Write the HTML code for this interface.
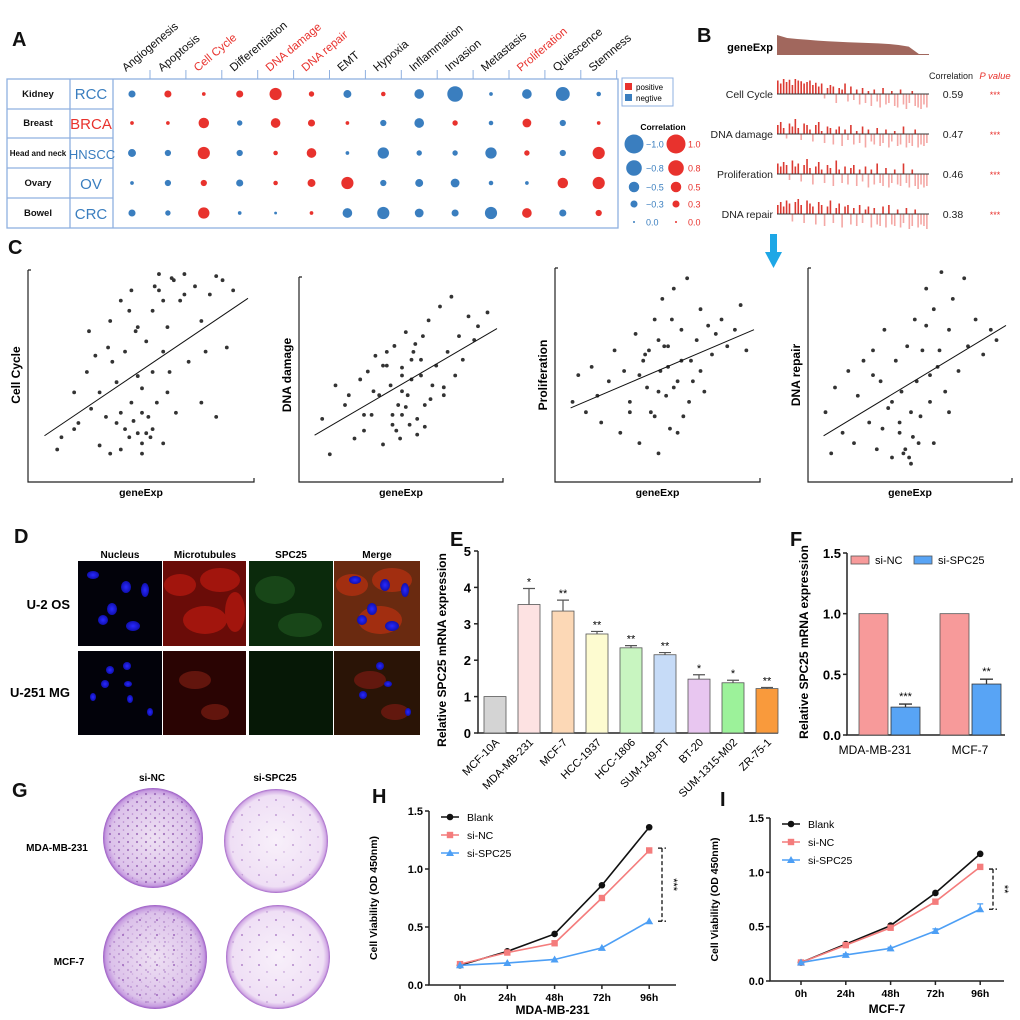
<!DOCTYPE html>
<html><head><meta charset="utf-8"><style>
html,body{margin:0;padding:0;background:#fff}
svg{display:block;font-family:"Liberation Sans",Arial,sans-serif}
</style></head><body>
<svg id="fig" width="1020" height="1020" viewBox="0 0 1020 1020" xmlns="http://www.w3.org/2000/svg">
<defs>
<radialGradient id="plateNC" cx="50%" cy="50%" r="50%"><stop offset="0" stop-color="#eee0f3"/><stop offset="0.85" stop-color="#dcc2ea"/><stop offset="0.95" stop-color="#c69be0"/><stop offset="1" stop-color="#9b5bc4"/></radialGradient>
<radialGradient id="plateSI" cx="50%" cy="50%" r="50%"><stop offset="0" stop-color="#f8f0fa"/><stop offset="0.88" stop-color="#efdff5"/><stop offset="0.96" stop-color="#d4aee6"/><stop offset="1" stop-color="#a466c8"/></radialGradient>
<pattern id="colDense" width="9" height="8" patternUnits="userSpaceOnUse"><circle cx="2" cy="2" r="1.1" fill="#7a3a9e"/><circle cx="6.5" cy="6" r="0.8" fill="#9a5ab8"/></pattern>
<pattern id="colSparse" width="17" height="15" patternUnits="userSpaceOnUse"><circle cx="4" cy="5" r="0.9" fill="#8a4aae"/><circle cx="12" cy="12" r="0.7" fill="#a06ac0"/></pattern>
<radialGradient id="nuc" cx="50%" cy="50%" r="50%"><stop offset="0" stop-color="#2a2aff"/><stop offset="1" stop-color="#1010b0"/></radialGradient>
</defs>

<g font-weight="bold" font-size="20" fill="#111">
<text x="12" y="46">A</text>
<text x="697" y="42">B</text>
<text x="8" y="254">C</text>
<text x="14" y="543">D</text>
<text x="450" y="546">E</text>
<text x="790" y="546">F</text>
<text x="12" y="797">G</text>
<text x="372" y="803">H</text>
<text x="720" y="806">I</text>
</g>

<g stroke="#8fb0e0" stroke-width="1.3" fill="none">
<rect x="7" y="79" width="611" height="149"/>
<line x1="70" y1="79" x2="70" y2="228"/><line x1="113" y1="79" x2="113" y2="228"/>
<line x1="7" y1="109" x2="113" y2="109"/><line x1="7" y1="138" x2="113" y2="138"/><line x1="7" y1="168" x2="113" y2="168"/><line x1="7" y1="198" x2="113" y2="198"/>
</g>
<g font-size="9.5" font-weight="bold" text-anchor="middle" fill="#111">
<text x="38" y="97">Kidney</text>
<text x="38" y="126">Breast</text>
<text x="38" y="156" font-size="8">Head and neck</text>
<text x="38" y="186">Ovary</text>
<text x="38" y="216">Bowel</text>
</g>
<g font-size="15" text-anchor="middle" fill="#3a7ebf">
<text x="91" y="99">RCC</text>
<text x="91" y="129" fill="#e8322d">BRCA</text>
<text x="92" y="159" font-size="13">HNSCC</text>
<text x="91" y="189">OV</text>
<text x="91" y="219">CRC</text>
</g>
<g id="aHeaders"></g>
<g id="aDots"></g>
<g>
<rect x="622" y="78" width="51" height="28" fill="#fff" stroke="#8fb0e0"/>
<rect x="625" y="83" width="7" height="7" fill="#e8322d"/><text x="636" y="90" font-size="8">positive</text>
<rect x="625" y="94" width="7" height="7" fill="#3a7ebf"/><text x="636" y="101" font-size="8">negtive</text>
</g>
<text x="663" y="130" font-size="8.5" font-weight="bold" text-anchor="middle">Correlation</text>
<g id="aLegend"></g>

<g id="bPanel"></g>
<text x="951" y="79" font-size="9" text-anchor="middle" fill="#222">Correlation</text>
<text x="995" y="79" font-size="9.5" font-style="italic" text-anchor="middle" fill="#e8322d">P value</text>
<path d="M770,234 h7 v18 h5 l-8.5,16 l-8.5,-16 h5 z" fill="#1ea7e6"/>

<g id="cPanel"></g>

<g>
<g font-size="10" font-weight="bold" text-anchor="middle">
<text x="120" y="558">Nucleus</text><text x="205" y="558">Microtubules</text><text x="291" y="558">SPC25</text><text x="377" y="558">Merge</text>
</g>
<text x="70" y="609" font-size="13" font-weight="bold" text-anchor="end">U-2 OS</text>
<text x="70" y="697" font-size="13" font-weight="bold" text-anchor="end">U-251 MG</text>
<rect x="78" y="561" width="84" height="85" fill="#02020a"/>
<rect x="163" y="561" width="83" height="85" fill="#6a0c08"/>
<rect x="249" y="561" width="84" height="85" fill="#0b2a0c"/>
<rect x="334" y="561" width="86" height="85" fill="#6a2a10"/>
<rect x="78" y="651" width="84" height="84" fill="#02020a"/>
<rect x="163" y="651" width="83" height="84" fill="#2a0403"/>
<rect x="249" y="651" width="84" height="84" fill="#061806"/>
<rect x="334" y="651" width="86" height="84" fill="#2a1406"/>
<g fill="#b0180f" opacity="0.8"><ellipse cx="180" cy="585" rx="16" ry="11"/><ellipse cx="220" cy="580" rx="20" ry="12"/><ellipse cx="205" cy="620" rx="22" ry="14"/><ellipse cx="235" cy="612" rx="10" ry="20"/></g>
<g fill="#b03010" opacity="0.8"><ellipse cx="352" cy="585" rx="16" ry="11"/><ellipse cx="392" cy="580" rx="20" ry="12"/><ellipse cx="380" cy="620" rx="22" ry="14"/></g>
<g fill="#1a4a1a" opacity="0.9"><ellipse cx="275" cy="590" rx="20" ry="14"/><ellipse cx="300" cy="625" rx="22" ry="12"/></g>
<g fill="#701a10" opacity="0.8"><ellipse cx="195" cy="680" rx="16" ry="9"/><ellipse cx="215" cy="712" rx="14" ry="8"/><ellipse cx="370" cy="680" rx="16" ry="9"/><ellipse cx="395" cy="712" rx="14" ry="8"/></g>
<g fill="url(#nuc)"><ellipse cx="93" cy="575" rx="6" ry="4"/><ellipse cx="126" cy="587" rx="5" ry="6"/><ellipse cx="145" cy="590" rx="4" ry="7"/><ellipse cx="112" cy="609" rx="5" ry="6"/><ellipse cx="103" cy="620" rx="5" ry="5"/><ellipse cx="133" cy="626" rx="7" ry="5"/><ellipse cx="110" cy="670" rx="4" ry="4"/><ellipse cx="127" cy="666" rx="4" ry="4"/><ellipse cx="105" cy="684" rx="4" ry="4"/><ellipse cx="128" cy="684" rx="4" ry="3"/><ellipse cx="93" cy="697" rx="3" ry="4"/><ellipse cx="130" cy="699" rx="3" ry="4"/><ellipse cx="150" cy="712" rx="3" ry="4"/>
<ellipse cx="355" cy="580" rx="6" ry="4"/><ellipse cx="385" cy="585" rx="5" ry="6"/><ellipse cx="405" cy="590" rx="4" ry="7"/><ellipse cx="372" cy="609" rx="5" ry="6"/><ellipse cx="362" cy="620" rx="5" ry="5"/><ellipse cx="392" cy="626" rx="7" ry="5"/><ellipse cx="380" cy="666" rx="4" ry="4"/><ellipse cx="363" cy="695" rx="4" ry="4"/><ellipse cx="388" cy="684" rx="4" ry="3"/><ellipse cx="408" cy="712" rx="3" ry="4"/></g>
</g>

<g id="ePanel"></g>
<g id="fPanel"></g>

<g>
<text x="152" y="781" font-size="10" font-weight="bold" text-anchor="middle">si-NC</text>
<text x="275" y="781" font-size="10" font-weight="bold" text-anchor="middle">si-SPC25</text>
<text x="57" y="851" font-size="10" font-weight="bold" text-anchor="middle">MDA-MB-231</text>
<text x="69" y="965" font-size="10" font-weight="bold" text-anchor="middle">MCF-7</text>
<circle cx="153" cy="838" r="50" fill="url(#plateNC)"/><circle cx="153" cy="838" r="47" fill="url(#colDense)" opacity="0.6"/>
<circle cx="276" cy="841" r="52" fill="url(#plateSI)"/><circle cx="276" cy="841" r="48" fill="url(#colSparse)" opacity="0.6"/>
<circle cx="155" cy="957" r="52" fill="url(#plateNC)"/><circle cx="155" cy="957" r="48" fill="url(#colSparse)"/><circle cx="155" cy="957" r="48" fill="url(#colDense)" opacity="0.3"/>
<circle cx="278" cy="957" r="52" fill="url(#plateSI)"/><circle cx="278" cy="957" r="48" fill="url(#colSparse)" opacity="0.8"/>
</g>

<g id="hPanel"></g>
<g id="iPanel"></g>
</svg>

<script>
const aCategories = ["Angiogenesis","Apoptosis","Cell Cycle","Differentiation","DNA damage","DNA repair","EMT","Hypoxia","Inflammation","Invasion","Metastasis","Proliferation","Quiescence","Stemness"];
const aHighlighted = ["Cell Cycle","DNA damage","DNA repair","Proliferation"];
const aCancers = ["RCC","BRCA","HNSCC","OV","CRC"];
const aRCC   = [-0.3, 0.3, 0.1, 0.3, 0.6, 0.2,-0.35, 0.15,-0.45,-0.8,-0.1,-0.45,-0.7,-0.15];
const aBRCA  = [ 0.1, 0.1, 0.5,-0.2, 0.45,0.3, 0.1,-0.25,-0.45, 0.2,-0.15, 0.4,-0.25, 0.1];
const aHNSCC = [-0.35,-0.25,0.6,-0.25,0.15,0.45,-0.1,-0.55,-0.2,-0.2,-0.55, 0.2,-0.25, 0.6];
const aOV    = [-0.1,-0.25,0.25,-0.3,0.15,0.35, 0.6,-0.25,-0.35,-0.4,-0.15,-0.1, 0.5, 0.6];
const aCRC   = [-0.3,-0.2, 0.55,-0.1,-0.05,0.1,-0.45,-0.6,-0.4,-0.3,-0.6, 0.45,-0.3, 0.25];
const aLegendValues = [1.0, 0.8, 0.5, 0.3, 0.0];

const bRows = ["Cell Cycle","DNA damage","Proliferation","DNA repair"];
const bCorr = ["0.59","0.47","0.46","0.38"];
const bPval = ["***","***","***","***"];
const bGeneExp = [1.0,0.85,0.8,0.76,0.72,0.69,0.66,0.64,0.62,0.6,0.58,0.55,0.5,0.42,0.05,0.05];
const bCellCycle = [0.9,0.7,1,0.8,0.95,0.6,1,0.9,0.85,0.7,0.8,0.9,0.6,0.75,0.5,0.7,-0.3,0.4,0.6,0.5,-0.6,0.4,0.3,0.7,-0.5,0.5,-0.4,0.3,-0.7,0.4,-0.6,0.2,-0.8,0.3,-0.5,-0.9,0.4,-0.7,-0.6,0.2,-0.8,-0.9,0.3,-0.7,-1,-0.6,0.2,-0.8,-0.9,-1,-0.7,-0.9];
const bDNAdamage = [0.6,0.8,0.4,-0.3,0.7,0.5,1,0.4,-0.4,0.7,0.6,0.3,-0.5,0.6,0.8,0.2,-0.6,0.5,0.4,-0.7,0.3,0.5,-0.8,0.3,-0.4,0.6,-0.7,0.2,-0.6,0.5,-0.9,0.3,-0.5,-0.7,0.4,-0.8,-0.6,0.3,-0.9,-0.5,0.2,-0.8,-0.7,0.5,-0.9,-0.6,-0.8,0.3,-0.9,-0.7,-0.8,-0.6];
const bProliferation = [0.7,0.5,0.8,0.6,-0.4,0.9,0.5,0.7,-0.5,0.6,1,0.4,-0.7,0.5,0.8,0.3,-0.6,0.6,0.4,-0.8,0.9,0.3,-0.6,0.5,-0.7,0.4,0.6,-0.8,0.3,-0.5,0.5,-0.9,0.3,-0.7,0.7,-0.6,-0.8,0.4,-0.9,-0.6,0.3,-0.7,-0.8,0.7,-0.6,-0.9,0.3,-0.8,-1,-0.7,-0.9,-0.8];
const bDNArepair = [0.6,0.8,0.5,0.9,0.7,-0.5,0.8,1,0.6,-0.6,0.9,0.7,0.5,-0.7,0.8,0.6,-0.8,0.5,0.9,-0.6,0.4,0.7,-0.9,0.5,0.6,-0.7,0.4,-0.8,0.6,-0.6,0.3,0.5,-0.9,0.4,-0.7,-0.8,0.5,-0.9,0.6,-0.7,-0.8,0.3,-0.9,-0.6,0.4,-1,-0.8,0.3,-0.9,-0.7,-0.8,-1];

const cTitles = ["Cell Cycle","DNA damage","Proliferation","DNA repair"];
const c1x = [0.1,0.12,0.18,0.18,0.2,0.24,0.26,0.28,0.3,0.3,0.33,0.35,0.36,0.38,0.4,0.4,0.42,0.44,0.45,0.47,0.48,0.5,0.5,0.52,0.53,0.55,0.55,0.57,0.58,0.6,0.6,0.62,0.63,0.65,0.66,0.68,0.7,0.72,0.75,0.78,0.8,0.82,0.85,0.88,0.9,0.93,0.25,0.35,0.45,0.5,0.55,0.6,0.4,0.48,0.52,0.58,0.62,0.7,0.78,0.85,0.42,0.46,0.5,0.54,0.38,0.44,0.56,0.64,0.34,0.48];
const c1y = [0.12,0.18,0.4,0.22,0.25,0.5,0.32,0.58,0.14,0.4,0.28,0.1,0.55,0.45,0.12,0.3,0.6,0.18,0.35,0.7,0.2,0.15,0.42,0.65,0.28,0.8,0.22,0.35,0.9,0.6,0.15,0.72,0.5,0.95,0.3,0.85,0.98,0.55,0.92,0.75,0.6,0.88,0.97,0.95,0.62,0.9,0.7,0.75,0.9,0.1,0.5,0.85,0.85,0.48,0.2,0.98,0.4,0.88,0.35,0.28,0.22,0.26,0.3,0.18,0.25,0.8,0.92,0.96,0.62,0.72];
const c2x = [0.08,0.12,0.15,0.2,0.22,0.25,0.28,0.3,0.32,0.34,0.36,0.38,0.4,0.42,0.44,0.45,0.46,0.48,0.49,0.5,0.5,0.52,0.53,0.54,0.55,0.56,0.58,0.6,0.61,0.62,0.64,0.66,0.68,0.7,0.72,0.74,0.76,0.78,0.8,0.82,0.85,0.88,0.9,0.95,0.3,0.4,0.5,0.6,0.45,0.55,0.65,0.35,0.47,0.57,0.52,0.42,0.62,0.72,0.5,0.58];
const c2y = [0.28,0.1,0.45,0.35,0.4,0.18,0.48,0.22,0.52,0.3,0.6,0.4,0.15,0.55,0.45,0.25,0.65,0.35,0.18,0.5,0.3,0.72,0.4,0.25,0.58,0.62,0.2,0.5,0.7,0.35,0.78,0.45,0.55,0.85,0.4,0.62,0.9,0.5,0.7,0.58,0.8,0.68,0.75,0.82,0.3,0.55,0.42,0.58,0.3,0.48,0.38,0.42,0.22,0.66,0.34,0.62,0.24,0.44,0.54,0.28];
const c3x = [0.05,0.08,0.12,0.15,0.18,0.2,0.24,0.27,0.3,0.32,0.35,0.38,0.4,0.42,0.44,0.46,0.48,0.5,0.51,0.52,0.54,0.55,0.56,0.58,0.6,0.62,0.63,0.65,0.67,0.7,0.72,0.74,0.76,0.78,0.8,0.83,0.86,0.9,0.93,0.96,0.45,0.5,0.55,0.48,0.53,0.58,0.4,0.62,0.68,0.35,0.43,0.57,0.66,0.72,0.5,0.6];
const c3y = [0.35,0.48,0.3,0.52,0.38,0.25,0.45,0.6,0.2,0.5,0.35,0.68,0.15,0.55,0.42,0.3,0.75,0.1,0.5,0.85,0.38,0.62,0.22,0.9,0.45,0.7,0.28,0.95,0.55,0.65,0.8,0.4,0.72,0.58,0.68,0.75,0.62,0.7,0.82,0.6,0.6,0.4,0.52,0.28,0.62,0.42,0.48,0.55,0.45,0.3,0.58,0.75,0.35,0.5,0.65,0.2];
const c4x = [0.05,0.08,0.1,0.14,0.17,0.2,0.22,0.25,0.28,0.3,0.32,0.34,0.36,0.38,0.4,0.42,0.44,0.45,0.46,0.48,0.5,0.5,0.52,0.53,0.54,0.56,0.58,0.6,0.62,0.64,0.66,0.68,0.7,0.72,0.75,0.78,0.8,0.84,0.88,0.92,0.95,0.4,0.44,0.47,0.49,0.51,0.55,0.6,0.65,0.7,0.35,0.3,0.58,0.62];
const c4y = [0.3,0.1,0.42,0.2,0.5,0.15,0.38,0.55,0.25,0.6,0.12,0.45,0.7,0.32,0.08,0.55,0.2,0.4,0.1,0.62,0.3,0.05,0.75,0.45,0.15,0.6,0.9,0.35,0.8,0.52,0.98,0.4,0.7,0.85,0.5,0.95,0.62,0.75,0.58,0.7,0.65,0.35,0.25,0.12,0.08,0.18,0.28,0.48,0.6,0.3,0.22,0.48,0.72,0.15];

const eCategories = ["MCF-10A","MDA-MB-231","MCF-7","HCC-1937","HCC-1806","SUM-149-PT","BT-20","SUM-1315-M02","ZR-75-1"];
const eValues = [1.0,3.53,3.35,2.72,2.34,2.15,1.48,1.38,1.22];
const eErrors = [0,0.44,0.3,0.07,0.06,0.06,0.12,0.07,0.03];
const eStars = ["","*","**","**","**","**","*","*","**"];
const eColors = ["#d4d4d4","#fde2e2","#fcd8b6","#fdfbd0","#c8f5c0","#c6dbf7","#e8c6f0","#9cf29a","#f99a3c"];
const eTicks = [0,1,2,3,4,5];
const fCategories = ["MDA-MB-231","MCF-7"];
const fNC = [1.0,1.0];
const fSPC = [0.23,0.42];
const fSPCerr = [0.025,0.04];
const fStars = ["***","**"];
const fTicks = [0.0,0.5,1.0,1.5];

const timeLabels = ["0h","24h","48h","72h","96h"];
const hBlank = [0.17,0.29,0.44,0.86,1.36];
const hNC    = [0.18,0.28,0.36,0.75,1.16];
const hSPC   = [0.17,0.19,0.22,0.32,0.55];
const iBlank = [0.17,0.34,0.51,0.81,1.17];
const iNC    = [0.17,0.33,0.49,0.73,1.05];
const iSPC   = [0.17,0.24,0.30,0.46,0.66];
const iSPCerr = [0,0.01,0.01,0.02,0.05];
const viabTicks = [0.0,0.5,1.0,1.5];

const NS = "http://www.w3.org/2000/svg";
function mk(tag, attrs, parent){const e=document.createElementNS(NS,tag);for(const k in attrs)e.setAttribute(k,attrs[k]);parent.appendChild(e);return e;}

(function(){
  const gh=document.getElementById('aHeaders'), gd=document.getElementById('aDots'), gl=document.getElementById('aLegend');
  const xA=i=>132+i*35.9;
  const rowsY=[94,123,153,183,213];
  const rA=v=>1+8.5*Math.abs(v);
  aCategories.forEach((c,i)=>{
    const t=mk('text',{x:0,y:0,transform:`translate(${xA(i)-6},72) rotate(-40)`,'font-size':11.5,fill:aHighlighted.includes(c)?'#e8322d':'#111'},gh);
    
    
    t.textContent=c;
    const tk=mk('line',{x1:xA(i)+18,y1:70,x2:xA(i)+18,y2:79,stroke:'#8fb0e0','stroke-width':1},gh);
    
    
  });
  const rows=[aRCC,aBRCA,aHNSCC,aOV,aCRC];
  rows.forEach((row,ri)=>{
    row.forEach((v,ci)=>{
      const c=mk('circle',{cx:xA(ci),cy:rowsY[ri],r:rA(v),fill:v>=0?'#e8322d':'#3a7ebf'},gd);
      
      
    });
  });
  const ly=[144,168,187,204,222];
  aLegendValues.forEach((v,i)=>{
    const b=mk('circle',{cx:634,cy:ly[i],r:rA(v),fill:'#3a7ebf'},gl);
    
    
    const bt=mk('text',{x:646,y:ly[i]+3.5,'font-size':9,fill:'#3a7ebf'},gl);
    
    
    bt.textContent=(v===0?'0.0':'\u2212'+v.toFixed(1));
    const r=mk('circle',{cx:676,cy:ly[i],r:rA(v),fill:'#e8322d'},gl);
    
    
    const rt=mk('text',{x:688,y:ly[i]+3.5,'font-size':9,fill:'#e8322d'},gl);
    
    
    rt.textContent=v.toFixed(1);
  });
})();

(function(){
  const g=document.getElementById('bPanel');
  const x0=777,x1=929;
  const gx=i=>x0+(x1-x0)*i/(bGeneExp.length-1);
  let d=`M${x0},55 `;
  bGeneExp.forEach((v,i)=>{d+=`L${gx(i)},${55-20*v} `;});
  d+=`L${x1},55 Z`;
  const p=mk('path',{d:d,fill:'#a1675d'},g);
  
  
  const gl=mk('text',{x:773,y:51,'font-size':11,'font-weight':'bold','text-anchor':'end'},g);
  
  
  gl.textContent='geneExp';
  const series=[bCellCycle,bDNAdamage,bProliferation,bDNArepair];
  const base=[94,134,174,214];
  series.forEach((s,ri)=>{
    const bw=(x1-x0)/s.length;
    s.forEach((v,i)=>{
      const h=15*Math.abs(v);
      const r=mk('rect',{x:x0+i*bw,y:v>=0?base[ri]-h:base[ri],width:Math.max(1,bw*0.55),height:h,fill:v>=0?'#dc3a32':'#f4a8a5'},g);
      
      
    });
    const l=mk('line',{x1:x0,y1:base[ri],x2:x1,y2:base[ri],stroke:'#333','stroke-width':1},g);
    
    
    const t=mk('text',{x:773,y:base[ri]+4,'font-size':10.5,'text-anchor':'end',fill:'#222'},g);
    
    
    t.textContent=bRows[ri];
    const c=mk('text',{x:953,y:base[ri]+4,'font-size':10.5,'text-anchor':'middle',fill:'#222'},g);
    
    
    c.textContent=bCorr[ri];
    const pv=mk('text',{x:995,y:base[ri]+4,'font-size':9,'text-anchor':'middle',fill:'#e8322d'},g);
    
    
    pv.textContent=bPval[ri];
  });
})();

(function(){
  const g=document.getElementById('cPanel');
  const boxes=[{x0:28,x1:254,y0:270},{x0:299,x1:503,y0:277},{x0:555,x1:760,y0:268},{x0:808,x1:1012,y0:268}];
  const ylab=[15,286,542,795];
  const dataX=[c1x,c2x,c3x,c4x], dataY=[c1y,c2y,c3y,c4y];
  const yb=482;
  boxes.forEach((b,k)=>{
    const sx=v=>b.x0+8+(b.x1-b.x0-14)*v;
    const sy=v=>yb-8-(yb-8-b.y0)*v;
    const ax=mk('path',{d:`M${b.x0},${b.y0} v${yb-b.y0} H${b.x1} v-4 M${b.x0},${b.y0} h3`,stroke:'#222','stroke-width':1.2,fill:'none'},g);
    
    
    const xs=dataX[k], ys=dataY[k];
    xs.forEach((v,i)=>{
      const c=mk('circle',{cx:sx(v),cy:sy(ys[i]),r:1.9,fill:'#333'},g);
      
      
    });
    const n=xs.length; let mx=0,my=0; xs.forEach((v,i)=>{mx+=v;my+=ys[i];}); mx/=n; my/=n;
    let sxy=0,sxx=0; xs.forEach((v,i)=>{sxy+=(v-mx)*(ys[i]-my);sxx+=(v-mx)*(v-mx);});
    const m=sxy/sxx, bb=my-m*mx;
    let xa=0.04, xb=1.0;
    let ya=m*xa+bb, yb2=m*xb+bb;
    if(yb2>1){xb=(1-bb)/m;yb2=1;}
    const ln=mk('line',{x1:sx(xa),y1:sy(ya),x2:sx(xb),y2:sy(yb2),stroke:'#111','stroke-width':1},g);
    
    
    const t=mk('text',{x:0,y:0,transform:`translate(${ylab[k]+5},375) rotate(-90)`,'font-size':12,'font-weight':'bold','text-anchor':'middle'},g);
    
    
    t.textContent=cTitles[k];
    const xt=mk('text',{x:(b.x0+b.x1)/2,y:496,'font-size':10.5,'font-weight':'bold','text-anchor':'middle'},g);
    
    
    xt.textContent='geneExp';
  });
})();

(function(){
  const g=document.getElementById('ePanel');
  const ax=478, y0=733, ytop=551;
  const sy=v=>y0-(y0-ytop)*v/5;
  const cx=i=>495+i*34;
  const a=mk('path',{d:`M${ax},${ytop} V${y0} H778`,stroke:'#222','stroke-width':1.5,fill:'none'},g);
  
  
  eTicks.forEach(t=>{
    const l=mk('line',{x1:ax-4,y1:sy(t),x2:ax,y2:sy(t),stroke:'#222','stroke-width':1.5},g);
    
    
    const tx=mk('text',{x:ax-7,y:sy(t)+5,'font-size':13,'font-weight':'bold','text-anchor':'end'},g);
    
    
    tx.textContent=t;
  });
  const yt=mk('text',{x:0,y:0,transform:'translate(446,650) rotate(-90)','font-size':12,'font-weight':'bold','text-anchor':'middle'},g);
  
  
  yt.textContent='Relative SPC25 mRNA expression';
  eValues.forEach((v,i)=>{
    const r=mk('rect',{x:cx(i)-11,y:sy(v),width:22,height:y0-sy(v),fill:eColors[i],stroke:'#555','stroke-width':0.8},g);
    
    
    if(eErrors[i]>0){
      const er=mk('path',{d:`M${cx(i)},${sy(v)} V${sy(v+eErrors[i])} M${cx(i)-6},${sy(v+eErrors[i])} h12`,stroke:'#555','stroke-width':1.2,fill:'none'},g);
      
      
    }
    const s=mk('text',{x:cx(i),y:sy(v+eErrors[i])-3,'font-size':11,'text-anchor':'middle'},g);
    
    
    s.textContent=eStars[i];
    const l=mk('text',{x:0,y:0,transform:`translate(${cx(i)+5},${y0+10}) rotate(-45)`,'font-size':11,'text-anchor':'end'},g);
    
    
    l.textContent=eCategories[i];
  });
})();

(function(){
  const g=document.getElementById('fPanel');
  const ax=847, y0=735, ytop=553;
  const sy=v=>y0-(y0-ytop)*v/1.5;
  const gc=[889,970];
  const a=mk('path',{d:`M${ax},${ytop} V${y0} H1005`,stroke:'#222','stroke-width':1.5,fill:'none'},g);
  
  
  fTicks.forEach(t=>{
    const l=mk('line',{x1:ax-4,y1:sy(t),x2:ax,y2:sy(t),stroke:'#222','stroke-width':1.5},g);
    
    
    const tx=mk('text',{x:ax-6,y:sy(t)+5,'font-size':13,'font-weight':'bold','text-anchor':'end'},g);
    
    
    tx.textContent=t.toFixed(1);
  });
  const yt=mk('text',{x:0,y:0,transform:'translate(808,642) rotate(-90)','font-size':12,'font-weight':'bold','text-anchor':'middle'},g);
  
  
  yt.textContent='Relative SPC25 mRNA expression';
  fCategories.forEach((c,i)=>{
    const n=mk('rect',{x:gc[i]-30,y:sy(fNC[i]),width:29,height:y0-sy(fNC[i]),fill:'#f79a9a',stroke:'#555','stroke-width':0.8},g);
    
    
    const s=mk('rect',{x:gc[i]+2,y:sy(fSPC[i]),width:29,height:y0-sy(fSPC[i]),fill:'#58a4f5',stroke:'#333','stroke-width':0.8},g);
    
    
    const top=sy(fSPC[i]+fSPCerr[i]);
    const er=mk('path',{d:`M${gc[i]+16.5},${sy(fSPC[i])} V${top} M${gc[i]+10},${top} h13`,stroke:'#333','stroke-width':1.3,fill:'none'},g);
    
    
    const st=mk('text',{x:gc[i]+16.5,y:top-4,'font-size':11,'text-anchor':'middle'},g);
    
    
    st.textContent=fStars[i];
    const l=mk('text',{x:gc[i]+(i===0?-14:0),y:y0+19,'font-size':12,'text-anchor':'middle'},g);
    
    
    l.textContent=c;
  });
  const lg=[['si-NC','#f79a9a',851],['si-SPC25','#58a4f5',914]];
  lg.forEach(e=>{
    const r=mk('rect',{x:e[2],y:556,width:18,height:8,fill:e[1],stroke:'#555','stroke-width':0.8},g);
    
    
    const t=mk('text',{x:e[2]+24,y:564,'font-size':11},g);
    
    
    t.textContent=e[0];
  });
})();

function linePanel(id, cfg, blank, nc, spc, spcErr, title, stars, bracket){
  const g=document.getElementById(id);
  const sy=v=>cfg.y0-(cfg.y0-cfg.ytop)*v/1.5;
  const sx=i=>cfg.xs+i*cfg.dx;
  const a=mk('path',{d:`M${cfg.ax},${cfg.ytop} V${cfg.y0} H${cfg.xend}`,stroke:'#222','stroke-width':1.5,fill:'none'},g);
  
  
  viabTicks.forEach(t=>{
    const l=mk('line',{x1:cfg.ax-4,y1:sy(t),x2:cfg.ax,y2:sy(t),stroke:'#222','stroke-width':1.5},g);
    
    
    const tx=mk('text',{x:cfg.ax-6,y:sy(t)+4,'font-size':11,'font-weight':'bold','text-anchor':'end'},g);
    
    
    tx.textContent=t.toFixed(1);
  });
  timeLabels.forEach((t,i)=>{
    const l=mk('line',{x1:sx(i),y1:cfg.y0,x2:sx(i),y2:cfg.y0+4,stroke:'#222','stroke-width':1.5},g);
    
    
    const tx=mk('text',{x:sx(i),y:cfg.y0+16,'font-size':10.5,'font-weight':'bold','text-anchor':'middle'},g);
    
    
    tx.textContent=t;
  });
  const yt=mk('text',{x:0,y:0,transform:`translate(${cfg.ax-52},${(cfg.y0+cfg.ytop)/2}) rotate(-90)`,'font-size':10.5,'font-weight':'bold','text-anchor':'middle'},g);
  
  
  yt.textContent='Cell Viability (OD 450nm)';
  const xt=mk('text',{x:(cfg.ax+cfg.xend)/2,y:cfg.xty,'font-size':12,'font-weight':'bold','text-anchor':'middle'},g);
  
  
  xt.textContent=title;
  const series=[[blank,'#111','circle','Blank'],[nc,'#f47c7c','square','si-NC'],[spc,'#4d9ff5','tri','si-SPC25']];
  series.forEach((s,k)=>{
    const pts=s[0].map((v,i)=>sx(i)+','+sy(v)).join(' ');
    const pl=mk('polyline',{points:pts,fill:'none',stroke:s[1],'stroke-width':1.6},g);
    
    
    s[0].forEach((v,i)=>{
      let m;
      if(s[2]==='circle') m=mk('circle',{cx:sx(i),cy:sy(v),r:3.3,fill:s[1]},g);
      else if(s[2]==='square') m=mk('rect',{x:sx(i)-3.2,y:sy(v)-3.2,width:6.4,height:6.4,fill:s[1]},g);
      else m=mk('path',{d:`M${sx(i)},${sy(v)-4} l4,7 h-8 z`,fill:s[1]},g);
      
      
      if(k===2 && spcErr && spcErr[i]>0){
        const e=mk('path',{d:`M${sx(i)},${sy(v)} V${sy(v+spcErr[i])} m-3,0 h6`,stroke:s[1],'stroke-width':1.3,fill:'none'},g);
        
        
      }
    });
    const ly=cfg.ytop+6+k*18;
    const ll=mk('line',{x1:cfg.ax+12,y1:ly,x2:cfg.ax+30,y2:ly,stroke:s[1],'stroke-width':1.6},g);
    
    
    let lm;
    if(s[2]==='circle') lm=mk('circle',{cx:cfg.ax+21,cy:ly,r:3.3,fill:s[1]},g);
    else if(s[2]==='square') lm=mk('rect',{x:cfg.ax+17.8,y:ly-3.2,width:6.4,height:6.4,fill:s[1]},g);
    else lm=mk('path',{d:`M${cfg.ax+21},${ly-4} l4,7 h-8 z`,fill:s[1]},g);
    
    
    const lt=mk('text',{x:cfg.ax+38,y:ly+4,'font-size':10.5},g);
    
    
    lt.textContent=s[3];
  });
  const bx=cfg.bx, ya=sy(bracket[0]), yb=sy(bracket[1]);
  const br=mk('path',{d:`M${bx-4},${ya} h8 M${bx},${ya} V${yb} M${bx-4},${yb} h8`,stroke:'#111','stroke-width':1.3,'stroke-dasharray':'4,2.5',fill:'none'},g);
  
  
  const st=mk('text',{x:0,y:0,transform:`translate(${bx+8},${(ya+yb)/2}) rotate(90)`,'font-size':11,'text-anchor':'middle'},g);
  
  
  st.textContent=stars;
}
linePanel('hPanel',{ax:429,y0:985,ytop:811,xs:460,dx:47.3,xend:676,bx:662,xty:1014},hBlank,hNC,hSPC,null,'MDA-MB-231','***',[1.18,0.55]);
linePanel('iPanel',{ax:770,y0:981,ytop:818,xs:801,dx:44.8,xend:1004,bx:993,xty:1013},iBlank,iNC,iSPC,iSPCerr,'MCF-7','**',[1.03,0.66]);
</script>
</body></html>
